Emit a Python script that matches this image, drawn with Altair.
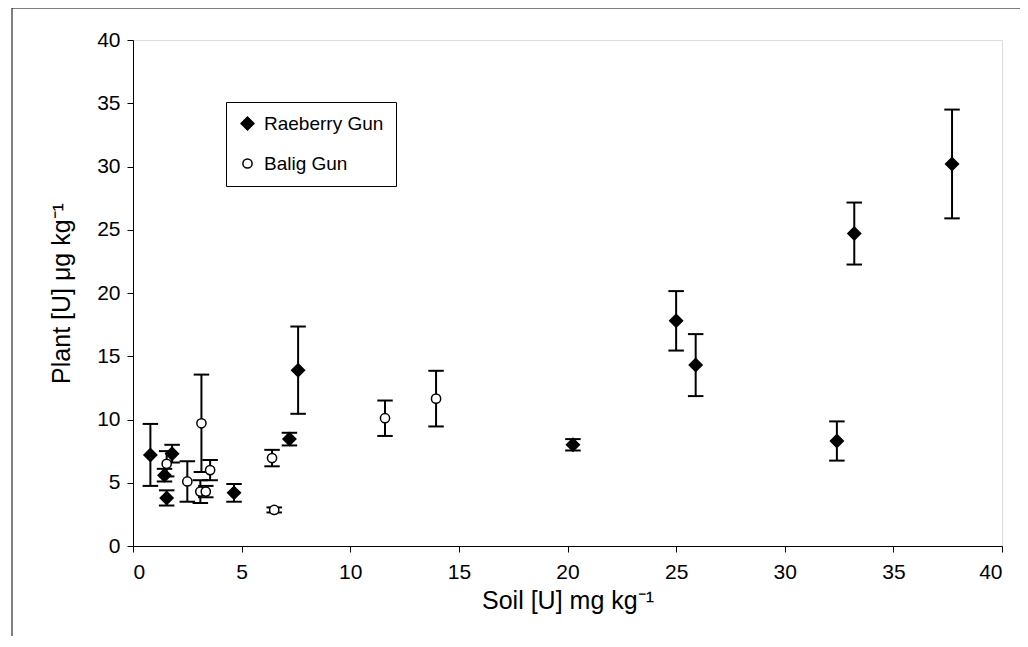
import altair as alt
import pandas as pd

# Raeberry Gun (filled diamonds)
rae_soil = [0.8, 1.8, 1.45, 1.55, 4.65, 7.2, 7.6, 20.25, 25.0, 25.9, 32.4, 33.2, 37.7]
rae_plant = [7.2, 7.3, 5.6, 3.8, 4.2, 8.45, 13.9, 8.0, 17.8, 14.3, 8.3, 24.7, 30.2]
rae_err = [2.45, 0.7, 0.5, 0.6, 0.7, 0.5, 3.45, 0.45, 2.35, 2.45, 1.55, 2.45, 4.3]

# Balig Gun (open circles)
bal_soil = [1.55, 2.5, 3.15, 3.1, 3.35, 3.55, 6.4, 6.5, 11.6, 13.95]
bal_plant = [6.5, 5.1, 9.7, 4.3, 4.3, 6.0, 6.95, 2.85, 10.1, 11.65]
bal_err = [1.0, 1.6, 3.85, 0.9, 0.45, 0.8, 0.65, 0.2, 1.4, 2.2]

series_names = ["Raeberry Gun", "Balig Gun"]
x_ticks = [0, 5, 10, 15, 20, 25, 30, 35, 40]
y_ticks = [0, 5, 10, 15, 20, 25, 30, 35, 40]

rows = []
for s, p, e in zip(rae_soil, rae_plant, rae_err):
    rows.append({"series": series_names[0], "soil": s, "plant": p, "lo": p - e, "hi": p + e})
for s, p, e in zip(bal_soil, bal_plant, bal_err):
    rows.append({"series": series_names[1], "soil": s, "plant": p, "lo": p - e, "hi": p + e})
df = pd.DataFrame(rows)

FONT = "Liberation Sans"

xscale = alt.Scale(domain=[0, 40], nice=False, zero=False)
yscale = alt.Scale(domain=[0, 40], nice=False, zero=False)

xaxis = alt.Axis(values=x_ticks, title="Soil [U] mg kg⁻¹", grid=False, labelFontSize=21,
                 titleFontSize=25, titleFontWeight="normal", labelPadding=9, titlePadding=6,
                 tickSize=6, domainColor="black", tickColor="black", labelColor="black",
                 titleColor="black", labelFont=FONT, titleFont=FONT)
yaxis = alt.Axis(values=y_ticks, title="Plant [U] μg kg⁻¹", grid=False, labelFontSize=21,
                 titleFontSize=25, titleFontWeight="normal", labelPadding=7, titlePadding=22,
                 tickSize=6, domainColor="black", tickColor="black", labelColor="black",
                 titleColor="black", labelFont=FONT, titleFont=FONT)

base = alt.Chart(df)

bars = base.mark_rule(color="black", strokeWidth=2).encode(
    x=alt.X("soil:Q", scale=xscale, axis=xaxis),
    y=alt.Y("lo:Q", scale=yscale, axis=yaxis),
    y2="hi:Q",
)
cap_lo = base.mark_point(shape="stroke", size=240, color="black", strokeWidth=2, filled=False, opacity=1).encode(
    x="soil:Q", y="lo:Q")
cap_hi = base.mark_point(shape="stroke", size=240, color="black", strokeWidth=2, filled=False, opacity=1).encode(
    x="soil:Q", y="hi:Q")

legend = alt.Legend(title=None, orient="none", legendX=93, legendY=62, strokeColor="black",
                    fillColor="white", padding=12, rowPadding=20, labelFontSize=19, labelFont=FONT,
                    labelColor="black", symbolStrokeWidth=1.5, labelOffset=7)

points = base.mark_point(filled=True, stroke="black", strokeWidth=1.5, opacity=1).encode(
    x="soil:Q",
    y="plant:Q",
    shape=alt.Shape("series:N", scale=alt.Scale(domain=series_names, range=["diamond", "circle"]), legend=legend),
    fill=alt.Fill("series:N", scale=alt.Scale(domain=series_names, range=["black", "white"]), legend=legend),
    size=alt.Size("series:N", scale=alt.Scale(domain=series_names, range=[165, 85]), legend=legend),
)

frame_df = pd.DataFrame({"a": [0]})
frame_left = alt.Chart(frame_df).mark_rule(color="black", strokeWidth=1).encode(
    x=alt.value(-121), y=alt.value(-32), y2=alt.value(610))
frame_top = alt.Chart(frame_df).mark_rule(color="black", strokeWidth=1).encode(
    x=alt.value(-121), x2=alt.value(895), y=alt.value(-32))

chart = alt.layer(frame_left, frame_top, bars, cap_lo, cap_hi, points).properties(
    width=869, height=506,
    autosize=alt.AutoSizeParams(type="none"),
    padding={"left": 125, "top": 32, "right": 18, "bottom": 90},
).configure_view(stroke="#808080", strokeWidth=1.5).configure(background="white")

chart.save("out.html", embed_options={"renderer": "svg", "actions": False})
